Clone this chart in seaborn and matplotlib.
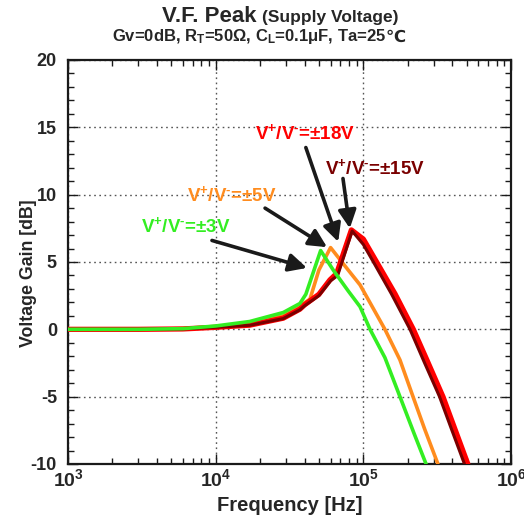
import numpy as np
import pandas as pd
import matplotlib
matplotlib.use("Agg")
import matplotlib.pyplot as plt
import seaborn as sns
from matplotlib.ticker import MultipleLocator, LogLocator, FuncFormatter, NullFormatter

# DATA
freq_3v = [1e3, 3e3, 6e3, 1e4, 1.7e4, 2.87e4, 3.72e4, 4.08e4, 5.14e4, 6.3e4, 7.9e4,
           9.5e4, 1.11e5, 1.4e5, 1.77e5, 2.2e5, 2.66e5]
gain_3v = [0, 0, 0.05, 0.25, 0.58, 1.25, 1.92, 2.6, 5.85, 4.35, 2.85,
           1.68, 0, -2.1, -5.0, -7.7, -10.0]

freq_5v = [1e3, 3e3, 6e3, 1e4, 1.7e4, 2.87e4, 3.72e4, 4.35e4, 5.0e4, 6.0e4, 7.9e4,
           9.5e4, 1.4e5, 1.77e5, 2.17e5, 2.6e5, 3.2e5]
gain_5v = [0, 0, 0.05, 0.2, 0.45, 1.0, 1.74, 2.24, 4.4, 6.07, 4.4,
           3.3, 0, -2.27, -5.0, -7.4, -10.0]

freq_18v = [1e3, 3e3, 6e3, 1e4, 1.7e4, 2.87e4, 3.72e4, 4.0e4, 5.0e4, 5.94e4, 6.6e4,
            8.3e4, 1e5, 1.23e5, 1.64e5, 2.18e5, 2.75e5, 3.46e5, 4.2e5, 5.1e5]
gain_18v = [0, 0, 0.03, 0.15, 0.31, 0.83, 1.5, 1.82, 2.6, 3.67, 4.15,
            7.38, 6.7, 5.0, 2.63, 0, -2.5, -5.0, -7.5, -10.0]

freq_15v = [1e3, 3e3, 6e3, 1e4, 1.7e4, 2.87e4, 3.72e4, 4.0e4, 5.0e4, 6.0e4, 6.7e4,
            8.4e4, 1e5, 1.17e5, 1.55e5, 2.07e5, 2.6e5, 3.28e5, 3.98e5, 4.84e5]
gain_15v = [0, 0, 0.03, 0.15, 0.3, 0.8, 1.45, 1.75, 2.5, 3.6, 4.0,
            7.3, 6.3, 5.0, 2.63, 0, -2.5, -5.0, -7.5, -10.0]

labels = [r"V$^{+}$/V$^{\text{-}}$=±3V", r"V$^{+}$/V$^{\text{-}}$=±5V",
          r"V$^{+}$/V$^{\text{-}}$=±18V", r"V$^{+}$/V$^{\text{-}}$=±15V"]
colors = ["#33ee22", "#ff8c1e", "#ff0000", "#7a0000"]

sns.set_theme(style="ticks")
plt.rcParams["font.family"] = ["Liberation Sans", "DejaVu Sans"]
plt.rcParams["font.weight"] = "bold"
plt.rcParams["axes.unicode_minus"] = False
plt.rcParams["mathtext.fontset"] = "custom"
plt.rcParams["mathtext.rm"] = "Liberation Sans:bold"
plt.rcParams["mathtext.it"] = "Liberation Sans:bold"
plt.rcParams["mathtext.bf"] = "Liberation Sans:bold"

fig = plt.figure(figsize=(5.24, 5.25), dpi=100)
ax = fig.add_axes([68 / 524, 1 - 464 / 525, 443 / 524, 404 / 525])

series = [
    (freq_5v, gain_5v, colors[1], 2.6, 3),
    (freq_18v, gain_18v, colors[2], 3.8, 4),
    (freq_15v, gain_15v, colors[3], 2.2, 5),
    (freq_3v, gain_3v, colors[0], 2.6, 6),
]
for f, g, c, lw, z in series:
    df = pd.DataFrame({"freq": f, "gain": g})
    sns.lineplot(data=df, x="freq", y="gain", color=c, lw=lw, ax=ax,
                 sort=False, estimator=None, zorder=z)

ax.set_xscale("log")
ax.set_xlim(1e3, 1e6)
ax.set_ylim(-10, 20)
ax.xaxis.set_major_locator(LogLocator(base=10, numticks=10))
ax.xaxis.set_minor_locator(LogLocator(base=10, subs=np.arange(2, 10), numticks=10))
ax.xaxis.set_major_formatter(FuncFormatter(lambda v, p: r"$\mathbf{10^{%d}}$" % round(np.log10(v))))
ax.xaxis.set_minor_formatter(NullFormatter())
ax.yaxis.set_major_locator(MultipleLocator(5))
ax.yaxis.set_minor_locator(MultipleLocator(1))

ax.tick_params(which="both", direction="in", top=True, right=True, width=1.0, color="k")
ax.tick_params(which="major", length=7)
ax.tick_params(which="minor", length=4)
ax.tick_params(axis="y", labelsize=13, pad=8)
ax.tick_params(axis="x", labelsize=14, pad=3)
for lab in ax.get_yticklabels():
    lab.set_fontweight("bold")
for s in ax.spines.values():
    s.set_linewidth(1.6)
    s.set_color("k")
ax.grid(which="major", color="#555555", linestyle=(0, (1.2, 2.5)), lw=1.0)

ax.set_xlabel("Frequency [Hz]", fontsize=14.5, fontweight="bold", labelpad=4)
ax.set_ylabel("Voltage Gain [dB]", fontsize=12.8, fontweight="bold")
ax.yaxis.set_label_coords(-0.07, 0.473)

fig.text(256 / 524, 1 - 22 / 525, "V.F. Peak", fontsize=16, fontweight="bold",
         ha="right", va="baseline")
fig.text(262 / 524, 1 - 22 / 525, "(Supply Voltage)", fontsize=12.5, fontweight="bold",
         ha="left", va="baseline")

# second title line: mathtext part + degree sign as plain text (font fallback)
t1 = fig.text(0, 1 - 41.5 / 525, "Gv=0dB, R$_{T}$=50Ω, C$_{L}$=0.1μF, Ta=25",
              fontsize=12, fontweight="bold", ha="left", va="baseline")
t2 = fig.text(0, 1 - 41.5 / 525, "℃", fontsize=12, fontweight="bold",
              ha="left", va="baseline")
fig.canvas.draw()
r = fig.canvas.get_renderer()
w1 = t1.get_window_extent(r).width
w2 = t2.get_window_extent(r).width
x0 = 259 - (w1 + w2) / 2
t1.set_x(x0 / 524)
t2.set_x((x0 + w1) / 524)

# annotations: (label, colour, text pos, arrow tail, arrow head) in (freq, dB)
notes = [
    (labels[2], colors[2], (4.03e4, 14.6), (4.08e4, 13.5), (6.76e4, 6.5)),
    (labels[3], colors[3], (1.2e5, 12.0), (7.28e4, 11.2), (8.1e4, 7.5)),
    (labels[1], colors[1], (1.29e4, 10.0), (2.16e4, 9.0), (5.68e4, 6.1)),
    (labels[0], colors[0], (6.3e3, 7.7), (9.44e3, 6.6), (4.15e4, 4.56)),
]
for txt, c, tpos, tail, head in notes:
    ax.text(tpos[0], tpos[1], txt, color=c, fontsize=13.5, fontweight="bold",
            ha="center", va="center", zorder=8)
    ax.annotate("", xy=head, xytext=tail,
                arrowprops=dict(arrowstyle="-|>,head_length=0.9,head_width=0.45",
                                color="k", lw=2.6, shrinkA=0, shrinkB=0),
                zorder=9)

fig.savefig("out.png", dpi=100)
